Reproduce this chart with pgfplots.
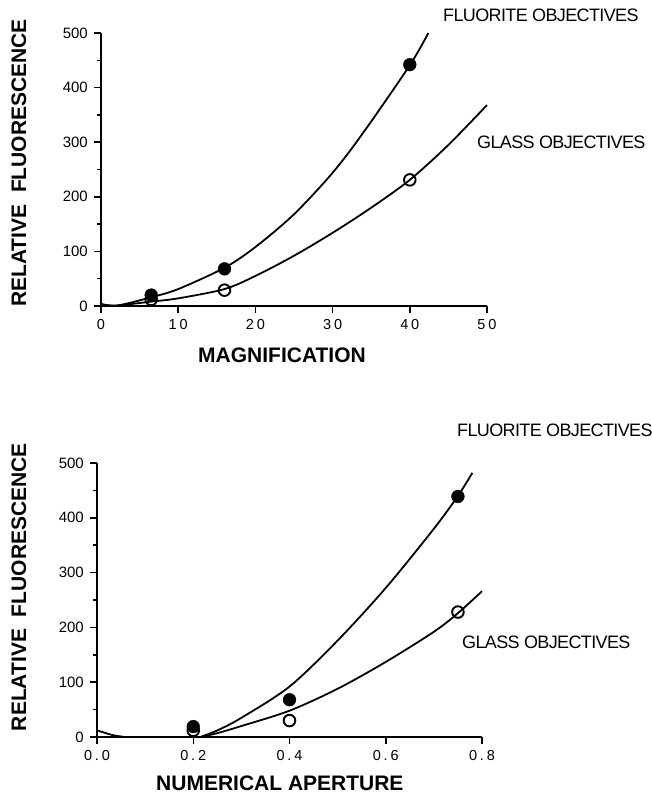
\documentclass[border=0pt]{standalone}
\usepackage{fontspec}
\setmainfont{Liberation Sans}
\usepackage{pgfplots}
\pgfplotsset{compat=1.18}
\pgfplotsset{
  myax/.style={
    scale only axis, anchor=south west,
    axis lines=left,
    axis line style={-, line width=1.8pt},
    every tick/.style={black, line width=1.5pt},
    major tick length=7pt, minor tick length=4pt,
    tick align=outside,
    ymin=0, ymax=500, ytick={0,100,...,500},
    minor y tick num=1,
    clip=false,
    /pgf/number format/assume math mode=true,
    yticklabel style={font=\fontsize{15}{15}\selectfont, inner sep=1pt, xshift=-5pt},
    xticklabel style={font=\fontsize{14.5}{14.5}\selectfont\addfontfeatures{LetterSpace=20}, yshift=-3pt},
    label style={font=\fontsize{21}{21}\selectfont\bfseries},
  },
  curve/.style={smooth, line width=1.8pt, black, no marks},
  filled/.style={only marks, mark=*, mark size=6.4pt, black},
  hollow/.style={only marks, mark=o, mark size=5.8pt, black, mark options={line width=1.9pt}},
}
\begin{document}
\begin{tikzpicture}[x=1pt,y=1pt]
\useasboundingbox (0,0) rectangle (651,797);
% ---------- top panel ----------
\begin{axis}[myax, at={(101pt,491pt)}, width=386pt, height=273pt,
  xmin=0, xmax=50, xtick={0,10,...,50},
  xlabel={MAGNIFICATION},
  xlabel style={at={(axis description cs:0.469,-0.1795)}, anchor=center},
  ylabel={RELATIVE\ \ FLUORESCENCE},
  ylabel style={at={(axis description cs:-0.2124,0.524)}, anchor=center, rotate=0}]
\addplot[curve] coordinates {(0,4) (2,0.5) (6.5,16) (10,31) (16,70) (20,108) (25,168) (30,244) (34,318) (40,441) (42.4,500)};
\addplot[curve] coordinates {(0,3) (2,1) (6.5,8) (10,14) (16,31) (20,55) (25,92) (30,134) (35,180) (40,231) (45,295) (50,368)};
\addplot[filled] coordinates {(6.5,20) (16,68) (40,442)};
\addplot[hollow] coordinates {(6.5,12) (16,29) (40,231)};
\end{axis}
% ---------- bottom panel ----------
\begin{axis}[myax, at={(97pt,60pt)}, width=385pt, height=274pt,
  xmin=0, xmax=0.8, xtick={0,0.2,0.4,0.6,0.8},
  xticklabels={0.0,0.2,0.4,0.6,0.8},
  xlabel={NUMERICAL APERTURE},
  xlabel style={at={(axis description cs:0.475,-0.168)}, anchor=center},
  ylabel={RELATIVE\ \ FLUORESCENCE},
  ylabel style={at={(axis description cs:-0.2026,0.547)}, anchor=center, rotate=0}]
\addplot[curve] coordinates {(0,12) (0.015,8) (0.03,4) (0.05,1) (0.07,0) (0.215,0)};
\addplot[curve] coordinates {(0.215,0) (0.25,12) (0.3,35) (0.4,92) (0.5,176) (0.6,272) (0.7,380) (0.75,440) (0.78,482)};
\addplot[curve] coordinates {(0.215,0) (0.25,7) (0.3,20) (0.4,48) (0.5,88) (0.6,137) (0.7,192) (0.75,226) (0.8,266)};
\addplot[filled] coordinates {(0.2,19) (0.4,68) (0.75,439)};
\addplot[hollow] coordinates {(0.2,12) (0.4,30) (0.75,228)};
\end{axis}
% ---------- annotations ----------
\begin{scope}[every node/.style={anchor=west, inner sep=0pt, font=\fontsize{18}{18}\selectfont\addfontfeatures{LetterSpace=-3.5}}]
\node at (443,782) {FLUORITE OBJECTIVES};
\node at (477,655) {GLASS OBJECTIVES};
\node at (457,367) {FLUORITE OBJECTIVES};
\node at (462,155) {GLASS OBJECTIVES};
\end{scope}
\end{tikzpicture}
\end{document}
